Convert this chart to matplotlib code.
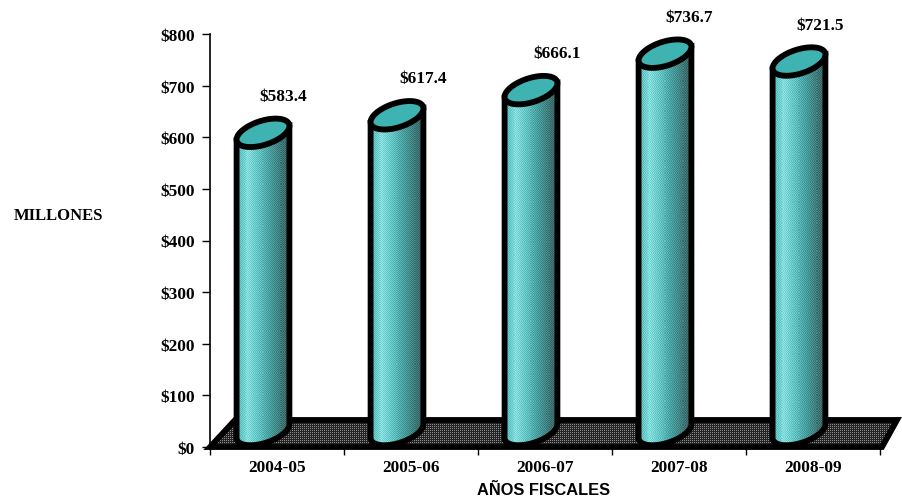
import numpy as np
import matplotlib
matplotlib.use("Agg")
import matplotlib.pyplot as plt
from matplotlib.colors import LinearSegmentedColormap
from matplotlib.patches import Polygon

years = ["2004-05", "2005-06", "2006-07", "2007-08", "2008-09"]
values = [583.4, 617.4, 666.1, 736.7, 721.5]
y_ticks = [0, 100, 200, 300, 400, 500, 600, 700, 800]

W, H = 902, 502
AX_L, AX_R, AX_T, AX_B = 210, 880, 35, 448
PX_X = (AX_R - AX_L) / 5      # pixels per category
PX_Y = (AX_B - AX_T) / 800    # pixels per dollar
STROKE = 4.2
LABEL_DX = [6, 12, 12, 10, 7]  # label shift from the category centre, pixels

plt.rcParams["font.family"] = ["Liberation Serif", "DejaVu Serif"]
plt.rcParams["font.weight"] = "bold"

fig = plt.figure(figsize=(W / 100, H / 100), dpi=100)
ax = fig.add_axes([AX_L / W, 1 - AX_B / H, (AX_R - AX_L) / W, (AX_B - AX_T) / H])
ax.set_xlim(0, 5)
ax.set_ylim(0, 800)


def dx(p):
    return p / PX_X


def dy(p):
    return p / PX_Y


def ellipse_points(cx, cy, a=27.5, b=12, rot=18, n=200):
    """Slanted ellipse around a data point, sizes given in pixels"""
    t = np.linspace(0, 2 * np.pi, n, endpoint=False)
    r = np.radians(rot)
    x = a * np.cos(t) * np.cos(r) - b * np.sin(t) * np.sin(r)
    y = a * np.cos(t) * np.sin(r) + b * np.sin(t) * np.cos(r)
    return cx + dx(x), cy + dy(y)


def dither_image(w, h, stops, amp):
    """Column gradient with a checker pattern on top, one cell per pixel"""
    cmap = LinearSegmentedColormap.from_list("c", stops)
    img = cmap(np.linspace(0, 1, w))[:, :3]
    img = np.repeat(img[np.newaxis, :, :], h, axis=0)
    yy, xx = np.indices((h, w))
    check = ((xx + yy) % 2 * 2 - 1)[:, :, np.newaxis]
    return np.clip(img + amp * check, 0, 1)


# floor, one cell per pixel so the dots stay even
floor = [(0, 0), (5 + dx(2), 0), (5 + dx(17), dy(27)), (dx(25), dy(27))]
yy, xx = np.indices((27, 687))
dots = (xx % 2 == 0) & (yy % 2 == 0)
floor_rgb = np.where(dots[:, :, np.newaxis], [0.55] * 3, [0.14] * 3)
im = ax.imshow(floor_rgb, extent=(0, 5 + dx(17), 0, dy(27)), aspect="auto", zorder=1,
               interpolation="nearest")
im.set_clip_box(fig.bbox)
im.set_clip_path(Polygon(floor, closed=True, transform=ax.transData))
edge = Polygon(floor, closed=True, facecolor="none", edgecolor="black", linewidth=STROKE,
               joinstyle="miter", zorder=2, clip_on=False)
ax.add_patch(edge)

# cylinders
body_stops = ["#50bcbc", "#86dede", "#62c4c4", "#4aa3a3", "#3f7f7f", "#3c5f5f"]
for i, v in enumerate(values):
    cx = i + 0.5 - dx(14)
    base = dy(16)
    top = base + v - dy(3)
    ex, ey = ellipse_points(cx, top)
    bx, by = ellipse_points(cx, base)
    right = np.argmax(bx)
    left = np.argmin(bx)
    # lower half of the base ellipse, going left to right
    order = np.roll(np.arange(len(bx)), -left)
    stop = np.where(order == right)[0][0]
    low = order[:stop + 1]
    body_x = np.r_[bx[low], ex[right], ex[left]]
    body_y = np.r_[by[low], ey[right], ey[left]]
    body = Polygon(np.c_[body_x, body_y], closed=True, facecolor="none", edgecolor="black",
                   linewidth=STROKE, zorder=4, clip_on=False)
    img = ax.imshow(dither_image(56, 330, body_stops, 0.05),
                    extent=(bx[left], bx[right], 0, top), aspect="auto",
                    zorder=3, interpolation="nearest")
    img.set_clip_box(fig.bbox)
    img.set_clip_path(Polygon(np.c_[body_x, body_y], closed=True, transform=ax.transData))
    ax.add_patch(body)
    cap = Polygon(np.c_[ex, ey], closed=True, facecolor="#3fb2b2", edgecolor="black",
                  linewidth=STROKE, zorder=5, clip_on=False)
    ax.add_patch(cap)
    ax.annotate(f"${v:.1f}", (i + 0.5, top), xytext=(LABEL_DX[i] * 0.72, 26.5),
                textcoords="offset points", ha="center", va="center", fontsize=12.4,
                fontweight="bold", annotation_clip=False)

ax.set_xlim(0, 5)
ax.set_ylim(0, 800)

ax.set_xticks(range(6))
ax.set_xticklabels([])
ax.set_xticks(np.arange(5) + 0.5, years, minor=True)
ax.tick_params(axis="x", which="major", length=6, width=1, direction="out")
ax.tick_params(axis="x", which="minor", length=0, pad=9, labelsize=12.4)
ax.set_yticks(y_ticks, [f"${t}" for t in y_ticks], fontsize=12.4)
ax.tick_params(axis="y", length=6, width=1, direction="out", pad=5)
for s in ["top", "right"]:
    ax.spines[s].set_visible(False)
ax.spines["left"].set_linewidth(1.2)
ax.spines["bottom"].set_linewidth(1.2)

fig.text(59 / W, 1 - 216 / H, "MILLONES", ha="center", va="center", fontsize=12, fontweight="bold")
fig.text(544 / W, 1 - 491 / H, "AÑOS FISCALES", ha="center", va="center", fontsize=11.8,
         fontweight="bold", family=["Liberation Sans", "DejaVu Sans"])

fig.savefig("out.png", dpi=100)
